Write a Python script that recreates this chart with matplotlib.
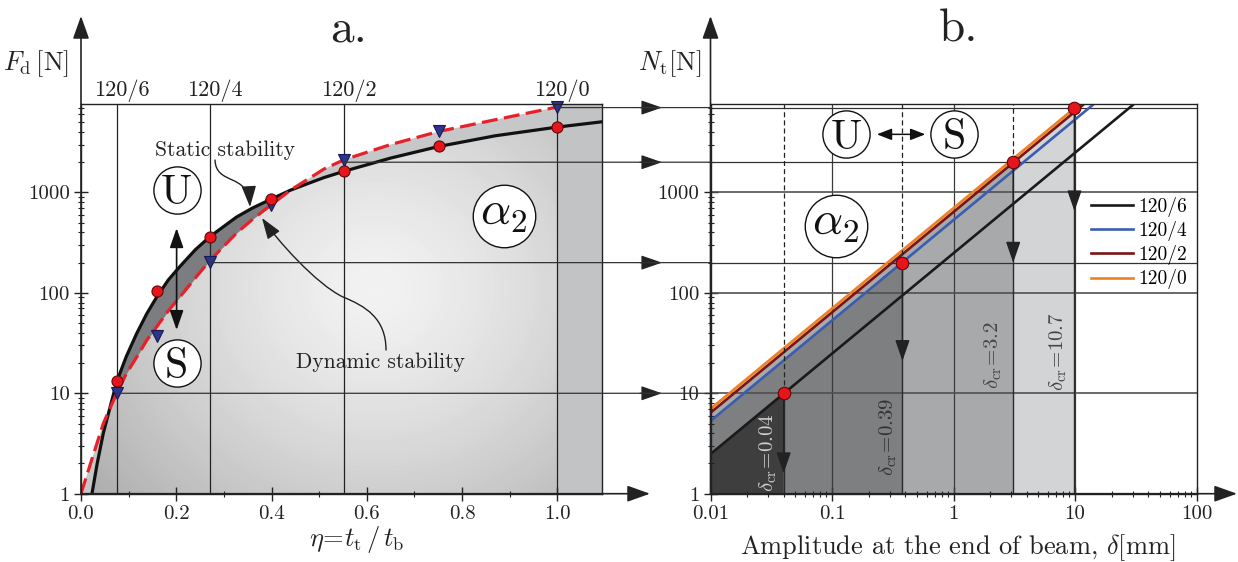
import numpy as np
import matplotlib
matplotlib.use('Agg')
import matplotlib.pyplot as plt
from matplotlib.patches import Polygon, FancyArrowPatch, ConnectionPatch
from matplotlib.path import Path
from matplotlib import transforms

plt.rcParams['font.family'] = 'cmr10'
plt.rcParams['mathtext.fontset'] = 'cm'
plt.rcParams['axes.formatter.use_mathtext'] = True

# ---------------- data, panel a ----------------
eta_marks = [0.075, 0.271, 0.552, 1.0]
mark_labels = ['120/6', '120/4', '120/2', '120/0']
mark_force = [10, 200, 2000, 7000]

eta_points = [0.075, 0.159, 0.271, 0.399, 0.552, 0.751, 1.0]
static_points = [13.2, 105, 358, 857, 1642, 2870, 4478]
dynamic_points = [10, 37.4, 205, 752, 2113, 4050, 7100]

curve_eta = [0.0468, 0.0749, 0.095, 0.117, 0.138, 0.159, 0.183, 0.2076, 0.24, 0.271,
             0.3265, 0.36, 0.399, 0.44, 0.48, 0.51, 0.5516, 0.65, 0.751, 0.87, 1.0]
static_curve = [4.0, 13, 23.2, 39.5, 62, 91, 134, 183, 269, 364,
                569, 700, 857, 1055, 1245, 1406, 1622, 2200, 2870, 3670, 4478]
dynamic_curve = [5.0, 10, 15.6, 23, 33.7, 46, 66, 91, 141, 211,
                 394, 540, 752, 1057, 1390, 1710, 2113, 3000, 4050, 5300, 7100]
static_head_eta, static_head = [0.023, 0.034], [1.0, 2.0]
static_tail_eta, static_tail = [1.093], [5050]
dynamic_head_eta, dynamic_head = [0.0, 0.02], [1.0, 2.0]

# ---------------- data, panel b ----------------
series = ['120/6', '120/4', '120/2', '120/0']
series_colors = ['#1a1a1a', '#3a5db0', '#7c1414', '#f07f22']
fill_colors = ['#3e3e3e', '#7e7f81', '#a8a9ab', '#d3d4d6']
line_N_at_001 = [2.48, 5.3, 6.4, 7.0]
line_delta_top = [30.6, 14.3, 11.9, 10.9]
crit_delta = [0.04, 0.38, 3.1, 9.9]
crit_F = [10, 200, 2000, 7000]
arrow_tip_F = [1.6, 21, 200, 650]
crit_text = ['0.04', '0.39', '3.2', '10.7']
crit_text_pos = [(0.0296, 2.55), (0.288, 3.64), (2.13, 23.9), (7.24, 26.2)]
crit_text_colors = ['#cfcfcf', '#333333', '#444444', '#444444']

W, H = 1238, 562
YTOP = 7600


def fx(px):
    return px / W


def fy(py):
    return 1 - py / H


fig = plt.figure(figsize=(W / 100, H / 100), dpi=100)
ax_a = fig.add_axes([fx(81), fy(493.7), fx(601.7) - fx(81), fy(104) - fy(493.7)])
ax_b = fig.add_axes([fx(710.5), fy(493.7), fx(1196.5) - fx(710.5), fy(104) - fy(493.7)])

# ================= panel a =================
ax = ax_a
ax.set_yscale('log')
ax.set_xlim(0, 1.093)
ax.set_ylim(1, YTOP)

s_eta = static_head_eta + curve_eta + static_tail_eta
s_F = static_head + static_curve + static_tail
d_eta = dynamic_head_eta + curve_eta
d_F = dynamic_head + dynamic_curve

# flat grey under the dynamic curve
poly_b = Polygon(list(zip(d_eta, d_F)) + [(1.0, 1)], closed=True,
                 facecolor='#c6c7c9', edgecolor='none', zorder=0.5)
ax.add_patch(poly_b)

# radial gradient under the static curve
ny, nx = 390, 521
yy, xx = np.mgrid[0:ny, 0:nx]
d = np.hypot(xx - 295, (yy - 205) * 1.1)
val = np.clip(0.95 - 0.21 * (d / 300) ** 1.35, 0, 1)
im = ax.imshow(val, cmap='gray', vmin=0, vmax=1, origin='lower', extent=[0, 1, 0, 1],
               transform=ax.transAxes, aspect='auto', interpolation='bilinear', zorder=0.6)
clip_a = Polygon(list(zip(s_eta[:-1], s_F[:-1])) + [(1.0, 1)], closed=True,
                 transform=ax.transData)
im.set_clip_path(clip_a)
ax.set_xlim(0, 1.093)
ax.set_ylim(1, YTOP)

# right strip
ax.fill_between([1.0, 1.093], 1, YTOP, color='#c2c3c5', lw=0, zorder=0.7)

# dark band between the curves
sc = np.array(static_curve)
dc = np.array(dynamic_curve)
ax.fill_between(curve_eta, dc, sc, where=sc > dc, interpolate=True,
                color='#7c7d80', lw=0, zorder=0.8)

# vertical lines and labels on top
ax.vlines(eta_marks, 1, YTOP, colors='#222222', lw=0.9, zorder=2)
for e, lab in zip(eta_marks, mark_labels):
    ax.text(e + 0.01, 1.0205, lab, transform=ax.get_xaxis_transform(), ha='center',
            va='baseline', fontsize=16, color='#222222')

ax.plot(s_eta, s_F, color='#111111', lw=2.3, zorder=4, solid_joinstyle='round')
ax.plot(d_eta, d_F, color='#e8202a', lw=2.3, dashes=(5, 2), zorder=4)
ax.plot(eta_points, static_points, 'o', ms=8, mfc='#e8141c', mec='#5a0a0a', mew=0.8,
        zorder=6, clip_on=False)
ax.plot(eta_points, dynamic_points, 'v', ms=9, mfc='#2b3590', mec='#151a50', mew=0.8,
        zorder=5, clip_on=False)


def circled(axis, x, y, txt, fs, ms, dy):
    axis.plot([x], [y], 'o', ms=ms, mfc='white', mec='#111111', mew=1.0, zorder=7)
    axis.annotate(txt, xy=(x, y), xytext=(0, dy), textcoords='offset points',
                  ha='center', va='baseline', fontsize=fs, zorder=8, color='#111111')


circled(ax, 0.2007, 1062, 'U', 30, 34, -10.2)
circled(ax, 0.2007, 19.9, 'S', 30, 34, -10.5)
circled(ax, 0.887, 589, r'$\alpha_2$', 34, 45, -7)
ax.annotate('', xy=(0.2007, 441), xytext=(0.2007, 42.7),
            arrowprops=dict(arrowstyle='<|-|>,head_length=1.2,head_width=0.42',
                            color='#111111', lw=1.2, mutation_scale=10,
                            shrinkA=0, shrinkB=0), zorder=7)

ax.text(0.303, 2660, 'Static stability', ha='center', va='center', fontsize=15.5,
        color='#222222', zorder=8)
ax.text(0.629, 20.6, 'Dynamic stability', ha='center', va='center', fontsize=15.5,
        color='#222222', zorder=8)

ax.set_xticks([0.0, 0.2, 0.4, 0.6, 0.8, 1.0])
ax.set_xticklabels(['0.0', '0.2', '0.4', '0.6', '0.8', '1.0'])
ax.set_xticks([0.1, 0.3, 0.5, 0.7, 0.9], minor=True)
ax.set_yticks([1, 10, 100, 1000])
ax.set_yticklabels(['1', '10', '100', '1000'])
ax.yaxis.set_minor_locator(matplotlib.ticker.LogLocator(subs=np.arange(2, 10)))
ax.yaxis.set_minor_formatter(matplotlib.ticker.NullFormatter())

# ================= panel b =================
ax = ax_b
ax.set_xscale('log')
ax.set_yscale('log')
ax.set_xlim(0.01, 100)
ax.set_ylim(1, YTOP)

for i in reversed(range(4)):
    verts = [(0.01, 1), (0.01, line_N_at_001[i]), (crit_delta[i], crit_F[i]),
             (crit_delta[i], 1)]
    ax.add_patch(Polygon(verts, closed=True, facecolor=fill_colors[i], edgecolor='none',
                         zorder=1))

ax.vlines([0.1, 1, 10], 1, YTOP, colors='#3a3a3a', lw=0.9, zorder=2)
ax.hlines([10, 100, 1000], 0.01, 100, colors='#505050', lw=1.2, zorder=2)
ax.hlines([200, 2000, 7000], 0.01, 100, colors='#333333', lw=0.9, zorder=2)

for i in range(4):
    ax.plot([0.01, line_delta_top[i]], [line_N_at_001[i], YTOP], color=series_colors[i],
            lw=1.9, label=series[i], zorder=3)

ax.vlines(crit_delta[:3], crit_F[:3], YTOP, colors='#222222', lw=0.9,
          linestyles=(0, (4, 2.5)), zorder=3)
ax.vlines(crit_delta, 1, crit_F, colors='#2a2a2a', lw=1.0, zorder=3)
for dlt, f, tip in zip(crit_delta, crit_F, arrow_tip_F):
    ax.annotate('', xy=(dlt, tip), xytext=(dlt, f),
                arrowprops=dict(arrowstyle='-|>,head_length=1.3,head_width=0.45',
                                color='#222222', lw=1.0, mutation_scale=10,
                                shrinkA=0, shrinkB=0), zorder=4)
ax.plot(crit_delta, crit_F, 'o', ms=9, mfc='#e8141c', mec='#5a0a0a', mew=0.8, zorder=6,
        clip_on=False)

for txt, (xp, yp), col in zip(crit_text, crit_text_pos, crit_text_colors):
    ax.text(xp, yp, r'$\delta_{\rm cr}\!=\!' + txt + '$', rotation=90, ha='center',
            va='center', fontsize=15, color=col, zorder=5)

circled(ax, 0.1315, 3790, 'U', 30, 34, -10.2)
circled(ax, 1.01, 3790, 'S', 30, 34, -10.5)
circled(ax, 0.1077, 467, r'$\alpha_2$', 34, 45, -7)
ax.annotate('', xy=(0.586, 3790), xytext=(0.234, 3790),
            arrowprops=dict(arrowstyle='<|-|>,head_length=0.9,head_width=0.35',
                            color='#111111', lw=1.1, mutation_scale=10,
                            shrinkA=0, shrinkB=0), zorder=7)

leg = ax.legend(loc='center left', bbox_to_anchor=(fx(1091), fy(243)),
                bbox_transform=fig.transFigure, frameon=False, fontsize=14,
                handlelength=2.15, handletextpad=0.3, labelspacing=0.22,
                borderpad=0, borderaxespad=0)

ax.set_xticks([0.01, 0.1, 1, 10, 100])
ax.set_xticklabels(['0.01', '0.1', '1', '10', '100'])
ax.set_yticks([1, 10, 100, 1000])
ax.set_yticklabels(['1', '10', '100', '1000'])
for axis in (ax.xaxis, ax.yaxis):
    axis.set_minor_locator(matplotlib.ticker.LogLocator(subs=np.arange(2, 10)))
    axis.set_minor_formatter(matplotlib.ticker.NullFormatter())

for axx in (ax_a, ax_b):
    axx.tick_params(which='major', direction='inout', length=10, width=1.0,
                    labelsize=15, pad=3, colors='#222222')
    axx.tick_params(which='minor', direction='inout', length=5, width=0.8,
                    colors='#222222')
    for sp in axx.spines.values():
        sp.set_linewidth(1.0)
        sp.set_color('#222222')
        sp.set_zorder(5)

# ---------------- cross-panel lines and arrows ----------------
blend = transforms.blended_transform_factory(fig.transFigure, ax_a.transData)
for e, f in zip(eta_marks, mark_force):
    con = ConnectionPatch(xyA=(e, f), coordsA=ax_a.transData, xyB=(0.01, f),
                          coordsB=ax_b.transData, color='#333333', lw=0.9, zorder=3)
    fig.add_artist(con)
    fig.add_artist(FancyArrowPatch((fx(640), f), (fx(662), f), transform=blend,
                                   arrowstyle='-|>,head_length=1.3,head_width=0.45',
                                   mutation_scale=10, color='#222222', lw=0.9,
                                   shrinkA=0, shrinkB=0))

ax_style = dict(arrowstyle='-|>,head_length=1.4,head_width=0.5', mutation_scale=10,
                color='#222222', lw=1.2, shrinkA=0, shrinkB=0, transform=fig.transFigure)
fig.add_artist(FancyArrowPatch((fx(81), fy(493.7)), (fx(81), fy(16)), **ax_style))
fig.add_artist(FancyArrowPatch((fx(81), fy(493.7)), (fx(650), fy(493.7)), **ax_style))
fig.add_artist(FancyArrowPatch((fx(710.5), fy(493.7)), (fx(710.5), fy(16)), **ax_style))
fig.add_artist(FancyArrowPatch((fx(710.5), fy(493.7)), (fx(1237), fy(493.7)), **ax_style))

# curved pointers for the stability labels
def pix_path(points):
    verts = [(fx(p[0]), fy(p[1])) for p in points]
    codes = [Path.MOVETO] + [Path.CURVE4] * (len(verts) - 1)
    return Path(verts, codes)


ptr = dict(arrowstyle='-|>,head_length=1.3,head_width=0.45', mutation_scale=10,
           color='#222222', lw=1.0, transform=fig.transFigure)
fig.add_artist(FancyArrowPatch(path=pix_path([(215, 160), (216, 186), (248, 172),
                                              (250, 207)]), **ptr))
fig.add_artist(FancyArrowPatch(path=pix_path([(386, 350), (386, 318), (365, 306),
                                              (343, 297), (316, 284), (277, 240),
                                              (262, 218)]), **ptr))

# ---------------- labels ----------------
fig.text(fx(349), fy(42), 'a.', fontsize=34, ha='center', va='baseline', color='#222222')
fig.text(fx(959), fy(42), 'b.', fontsize=34, ha='center', va='baseline', color='#222222')
fig.text(fx(69), fy(70), r'$F_{\rm d}\,$[N]', fontsize=19, ha='right', va='baseline',
         color='#222222')
fig.text(fx(701), fy(70), r'$N_{\rm t}$[N]', fontsize=19, ha='right', va='baseline',
         color='#222222')
fig.text(fx(357), fy(546), r'$\eta\!=\!t_{\rm t}\,/\,t_{\rm b}$', fontsize=19,
         ha='center', va='baseline', color='#222222')
fig.text(fx(958), fy(554), r'Amplitude at the end of beam, $\delta$[mm]', fontsize=19,
         ha='center', va='baseline', color='#222222')

fig.savefig('out.png', dpi=100)
